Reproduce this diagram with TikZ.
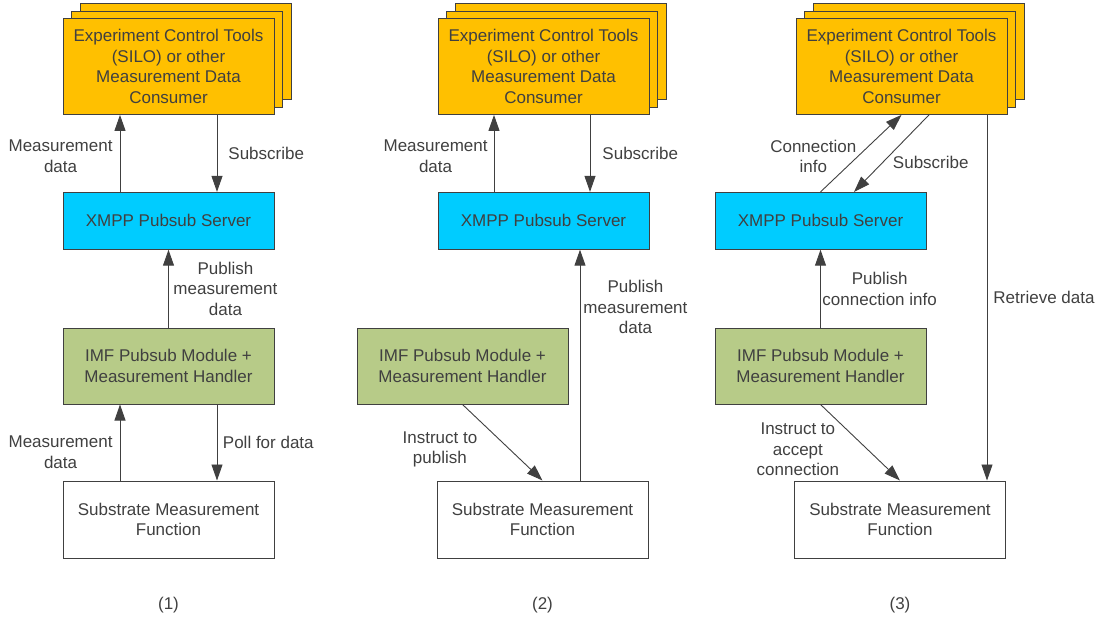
\documentclass[tikz,border=0pt]{standalone}
\usepackage{fontspec}
\setmainfont{Liberation Sans}
\usetikzlibrary{arrows.meta, positioning, shadows}
\definecolor{toolorange}{RGB}{255, 192, 0}
\definecolor{serverblue}{RGB}{0, 204, 255}
\definecolor{modulegreen}{RGB}{183, 203, 136}
\definecolor{linegray}{RGB}{64, 64, 64}
\definecolor{textgray}{RGB}{64, 64, 64}

\tikzset{
    box/.style={draw=linegray, line width=0.8pt, minimum width=211pt, align=center,
                text=textgray, font=\fontsize{17}{20.5}\selectfont, inner sep=0pt},
    toolbox/.style={box, fill=toolorange, minimum height=96pt,
                copy shadow={shadow xshift=17pt, shadow yshift=15pt},
                copy shadow={shadow xshift=8.5pt, shadow yshift=7.5pt}},
    serverbox/.style={box, fill=serverblue, minimum height=57pt},
    modulebox/.style={box, fill=modulegreen, minimum height=76pt},
    funcbox/.style={box, fill=white, minimum height=77pt},
    flow/.style={draw=linegray, line width=0.9pt, -{Triangle[length=16pt, width=11pt]}},
    lbl/.style={text=textgray, font=\fontsize{17}{20.5}\selectfont, align=center, inner sep=0pt},
}

\begin{document}
\begin{tikzpicture}[x=1pt, y=-1pt]
    \useasboundingbox (0,0) rectangle (1099,617);

    % (1) polling
    \node[toolbox] (tool1) at (168.5,66.5) {Experiment Control Tools\\(SILO) or other\\Measurement Data\\Consumer};
    \node[serverbox, below=77pt of tool1] (srv1) {XMPP Pubsub Server};
    \node[modulebox, below=78pt of srv1] (mod1) {IMF Pubsub Module +\\Measurement Handler};
    \node[funcbox, below=76pt of mod1] (func1) {Substrate Measurement\\Function};
    \node[lbl, below=39pt of func1] (cap1) {(1)};

    \draw[flow] ([xshift=-48.5pt]srv1.north) -- node[lbl, pos=0.46, left=7pt] {Measurement\\data} ([xshift=-48.5pt]tool1.south);
    \draw[flow] ([xshift=48.5pt]tool1.south) -- node[lbl, midway, right=11pt] {Subscribe} ([xshift=48.5pt]srv1.north);
    \draw[flow] (mod1.north) -- node[lbl, midway, right=4.5pt] {Publish\\measurement\\data} (srv1.south);
    \draw[flow] ([xshift=-48.5pt]func1.north) -- node[lbl, pos=0.37, left=7pt] {Measurement\\data} ([xshift=-48.5pt]mod1.south);
    \draw[flow] ([xshift=48.5pt]mod1.south) -- node[lbl, midway, right=5.5pt] {Poll for data} ([xshift=48.5pt]func1.north);

    % (2) instructed publishing
    \node[toolbox] (tool2) at (543.5,66.5) {Experiment Control Tools\\(SILO) or other\\Measurement Data\\Consumer};
    \node[serverbox, below=77pt of tool2] (srv2) {XMPP Pubsub Server};
    \node[modulebox, below=78pt of srv2, xshift=-81pt] (mod2) {IMF Pubsub Module +\\Measurement Handler};
    \node[funcbox, below=76pt of mod2, xshift=80pt] (func2) {Substrate Measurement\\Function};
    \node[lbl, below=39pt of func2] (cap2) {(2)};

    \draw[flow] ([xshift=-49.5pt]srv2.north) -- node[lbl, pos=0.46, left=6pt] {Measurement\\data} ([xshift=-49.5pt]tool2.south);
    \draw[flow] ([xshift=46.5pt]tool2.south) -- node[lbl, midway, right=12pt] {Subscribe} ([xshift=46.5pt]srv2.north);
    \draw[flow] ([xshift=37.5pt]func2.north) -- node[lbl, pos=0.75, right=3pt] {Publish\\measurement\\data} ([xshift=37.5pt]func2.north |- srv2.south);
    \draw[flow] (mod2.south) -- node[lbl, pos=0.59, left=32pt] {Instruct to\\publish} (func2.north);

    % (3) direct retrieval
    \node[toolbox] (tool3) at (901.5,66.5) {Experiment Control Tools\\(SILO) or other\\Measurement Data\\Consumer};
    \node[serverbox, below=77pt of tool3, xshift=-81pt] (srv3) {XMPP Pubsub Server};
    \node[modulebox, below=78pt of srv3] (mod3) {IMF Pubsub Module +\\Measurement Handler};
    \node[funcbox, below=76pt of mod3, xshift=79.5pt] (func3) {Substrate Measurement\\Function};
    \node[lbl, below=39pt of func3] (cap3) {(3)};

    \draw[flow] (srv3.north) -- node[lbl, pos=0.46, left=1pt] {Connection\\info} (tool3.south);
    \draw[flow] ([xshift=27.5pt]tool3.south) -- node[lbl, pos=0.62, right=10pt] {Subscribe} ([xshift=33.5pt]srv3.north);
    \draw[flow] ([xshift=85.5pt]tool3.south) -- node[lbl, midway, right=6pt] {Retrieve data} ([xshift=85.5pt]tool3.south |- func3.north);
    \draw[flow] (mod3.north) -- node[lbl, midway, right=1.5pt] {Publish\\connection info} (srv3.south);
    \draw[flow] (mod3.south) -- node[lbl, pos=0.59, left=28pt] {Instruct to\\accept\\connection} (func3.north);
\end{tikzpicture}
\end{document}
